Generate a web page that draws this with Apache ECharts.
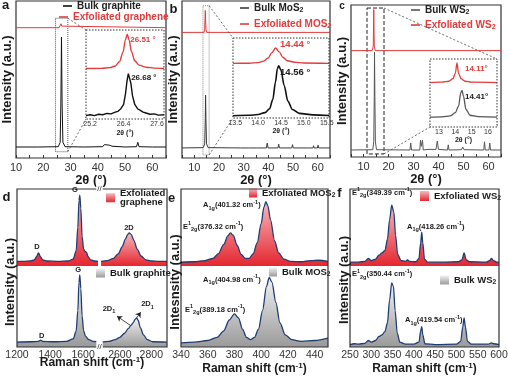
<!DOCTYPE html>
<html><head><meta charset="utf-8">
<script src="https://cdn.jsdelivr.net/npm/echarts@6/dist/echarts.min.js"></script>
<style>html,body{margin:0;padding:0;background:#fff}#c{width:508px;height:376px}</style>
</head><body><div id="c"></div>
<script>
// ================= DATA =================
const xrdTickLabels = [10, 20, 30, 40, 50, 60];
const insetTicksA = [25.2, 26.4, 27.6];
const insetTicksB = [13.5, 14.0, 14.5, 15.0, 15.5];
const insetTicksC = [13, 14, 15, 16];
const ramanTicksDL = [1200, 1400, 1600];
const ramanTicksDR = [2600, 2800];
const ramanTicksE = [340, 360, 380, 400, 420, 440];
const ramanTicksF = [250, 300, 350, 400, 450, 500, 550, 600];

// (a) XRD graphite
const graphiteBulkXRD = [[10,0.07],[18,0.07],[25.5,0.072],[26.2,0.1],[26.45,0.35],[26.68,0.77],[26.9,0.35],[27.2,0.1],[28,0.072],[35,0.07],[41.8,0.072],[42.4,0.085],[43,0.08],[44.2,0.082],[44.6,0.09],[45.2,0.075],[50,0.07],[54.2,0.072],[54.65,0.1],[55.1,0.072],[60,0.07],[65,0.07]];
const graphiteExfXRD = [[10,0.83],[25.8,0.83],[26.3,0.84],[26.51,0.855],[26.75,0.84],[27.2,0.83],[65,0.83]];
const graphiteExfInset = [[25.05,0.57],[25.6,0.572],[25.9,0.58],[26.1,0.6],[26.25,0.65],[26.38,0.76],[26.46,0.9],[26.53,0.97],[26.6,0.9],[26.68,0.77],[26.8,0.66],[26.95,0.61],[27.2,0.585],[27.5,0.575],[27.85,0.57]];
const graphiteBulkInset = [[25.05,0.02],[25.2,0.03],[25.35,0.02],[25.5,0.035],[25.65,0.03],[25.8,0.045],[25.95,0.04],[26.1,0.06],[26.2,0.07],[26.3,0.1],[26.4,0.15],[26.47,0.28],[26.52,0.42],[26.57,0.51],[26.62,0.49],[26.66,0.4],[26.72,0.25],[26.8,0.15],[26.9,0.1],[27.0,0.08],[27.1,0.06],[27.2,0.05],[27.35,0.035],[27.5,0.04],[27.65,0.025],[27.85,0.03]];

// (b) XRD MoS2
const mos2BulkXRD = [[5,0.064],[13.6,0.066],[14.2,0.09],[14.45,0.25],[14.56,0.40],[14.7,0.25],[14.95,0.09],[15.6,0.066],[28.6,0.064],[29,0.072],[29.4,0.064],[32.4,0.064],[32.7,0.074],[33.1,0.064],[35.6,0.064],[35.9,0.07],[36.2,0.064],[39.2,0.064],[39.55,0.095],[39.9,0.064],[43.9,0.064],[44.2,0.088],[44.5,0.064],[49.5,0.064],[49.8,0.085],[50.1,0.064],[55.8,0.064],[56,0.07],[56.2,0.064],[58.1,0.064],[58.35,0.078],[58.6,0.064],[59.9,0.064],[60.15,0.082],[60.4,0.064],[65,0.064]];
const mos2ExfXRD = [[5,0.80],[13.9,0.80],[14.2,0.82],[14.44,0.94],[14.7,0.82],[15,0.80],[65,0.80]];
const mos2ExfInset = [[13.45,0.69],[13.8,0.692],[14.0,0.70],[14.12,0.72],[14.22,0.76],[14.3,0.83],[14.38,0.89],[14.46,0.84],[14.54,0.77],[14.64,0.725],[14.8,0.705],[15.0,0.695],[15.55,0.69]];
const mos2BulkInset = [[13.45,0.01],[13.8,0.015],[14.0,0.025],[14.15,0.05],[14.25,0.1],[14.32,0.22],[14.38,0.45],[14.42,0.62],[14.45,0.66],[14.5,0.6],[14.57,0.4],[14.65,0.2],[14.75,0.09],[14.9,0.04],[15.2,0.02],[15.55,0.012]];

// (c) XRD WS2
const ws2BulkXRD = [[5,0.046],[13.7,0.048],[14.1,0.1],[14.3,0.4],[14.41,0.69],[14.55,0.4],[14.75,0.1],[15.2,0.048],[28.6,0.046],[28.9,0.092],[29.2,0.046],[32.5,0.046],[32.8,0.11],[33.1,0.07],[33.6,0.11],[33.9,0.046],[35.8,0.05],[36,0.058],[36.2,0.05],[39,0.05],[39.5,0.105],[40,0.05],[43.6,0.046],[43.9,0.08],[44.2,0.046],[49.2,0.048],[49.7,0.065],[50.2,0.048],[58.1,0.046],[58.4,0.1],[58.7,0.046],[60.2,0.046],[60.5,0.092],[60.8,0.046],[65,0.046]];
const ws2ExfXRD = [[5,0.70],[13.5,0.70],[13.9,0.73],[14.11,0.97],[14.3,0.73],[14.7,0.70],[33,0.70],[33.3,0.705],[33.6,0.70],[58.3,0.70],[58.5,0.706],[58.7,0.70],[65,0.70]];
const ws2ExfInset = [[12.45,0.66],[13.2,0.665],[13.6,0.68],[13.85,0.72],[14.0,0.8],[14.1,0.96],[14.2,0.8],[14.35,0.72],[14.6,0.68],[15.0,0.665],[16.55,0.66]];
const ws2BulkInset = [[12.45,0.13],[13.2,0.135],[13.7,0.15],[14.0,0.2],[14.2,0.3],[14.33,0.5],[14.41,0.54],[14.5,0.45],[14.65,0.25],[14.9,0.16],[15.4,0.14],[16.55,0.13]];

// (d) Raman graphene / graphite (broken axis: left and right segments)
const grapheneExfRamanL = [[1200,0.06],[1240,0.06],[1280,0.065],[1305,0.08],[1318,0.12],[1330,0.17],[1342,0.12],[1355,0.08],[1380,0.065],[1450,0.06],[1510,0.065],[1540,0.09],[1558,0.2],[1568,0.5],[1575,0.85],[1580,0.92],[1586,0.75],[1594,0.38],[1603,0.22],[1612,0.19],[1620,0.18],[1630,0.12],[1645,0.08],[1670,0.065],[1690,0.06]];
const grapheneExfRamanR = [[2480,0.06],[2520,0.07],[2560,0.1],[2590,0.16],[2615,0.25],[2635,0.35],[2650,0.41],[2660,0.43],[2672,0.41],[2690,0.33],[2710,0.22],[2735,0.13],[2765,0.08],[2800,0.065],[2850,0.06],[2900,0.06]];
const graphiteBulkRamanL = [[1200,0.06],[1280,0.065],[1330,0.07],[1343,0.085],[1355,0.07],[1420,0.065],[1500,0.07],[1540,0.1],[1558,0.2],[1568,0.45],[1575,0.8],[1580,0.89],[1586,0.72],[1594,0.38],[1603,0.2],[1615,0.13],[1635,0.09],[1660,0.07],[1690,0.065]];
const graphiteBulkRamanR = [[2480,0.06],[2530,0.07],[2570,0.09],[2600,0.12],[2630,0.17],[2655,0.23],[2672,0.27],[2685,0.3],[2697,0.34],[2707,0.36],[2716,0.33],[2730,0.24],[2750,0.15],[2775,0.09],[2810,0.065],[2900,0.06]];

// (e) Raman MoS2
const mos2ExfRaman = [[340,0.05],[350,0.055],[358,0.07],[364,0.1],[368,0.16],[372,0.28],[375,0.39],[377,0.43],[379,0.4],[382,0.27],[385,0.15],[388,0.1],[391,0.1],[394,0.16],[397,0.3],[400,0.55],[402,0.76],[403.5,0.835],[405,0.78],[407,0.6],[410,0.33],[413,0.17],[417,0.09],[422,0.06],[430,0.055],[437,0.07],[443,0.075],[450,0.06]];
const mos2BulkRaman = [[340,0.05],[350,0.06],[360,0.08],[367,0.12],[372,0.2],[376,0.33],[380,0.41],[383,0.36],[386,0.22],[389,0.12],[392,0.09],[395,0.12],[398,0.22],[401,0.45],[404,0.75],[406,0.86],[408,0.8],[411,0.55],[414,0.3],[418,0.15],[423,0.09],[430,0.07],[440,0.08],[450,0.11]];

// (f) Raman WS2
const ws2ExfRaman = [[250,0.05],[270,0.05],[285,0.06],[293,0.1],[300,0.07],[310,0.09],[318,0.14],[325,0.17],[332,0.2],[338,0.35],[343,0.6],[348,0.79],[353,0.7],[357,0.4],[362,0.15],[370,0.07],[380,0.06],[385,0.08],[390,0.06],[405,0.055],[412,0.1],[416,0.3],[418.5,0.44],[421,0.3],[425,0.09],[432,0.05],[470,0.05],[505,0.055],[513,0.08],[518,0.17],[523,0.08],[530,0.055],[570,0.05],[578,0.07],[582,0.1],[587,0.07],[595,0.05],[600,0.05]];
const ws2BulkRaman = [[250,0.03],[260,0.04],[270,0.035],[285,0.045],[293,0.08],[300,0.06],[310,0.08],[318,0.13],[325,0.15],[332,0.19],[338,0.3],[343,0.58],[348,0.79],[352,0.75],[356,0.45],[361,0.17],[367,0.06],[380,0.035],[400,0.035],[412,0.06],[416,0.2],[418.5,0.25],[421,0.15],[426,0.04],[450,0.03],[500,0.035],[510,0.07],[515,0.25],[518,0.36],[521,0.25],[526,0.07],[535,0.035],[575,0.035],[582,0.05],[588,0.04],[600,0.03]];

// ================= STYLE / LAYOUT =================
const FONT = 'Liberation Sans, Arial, Helvetica, sans-serif';
const RED = '#e23b3b';
const NAVY = '#1f3d73';
const INK = '#1a1a1a';

const G = [
  {l:16, t:1, w:150, h:157},   // 0 a
  {l:86, t:30, w:78, h:89},    // 1 a inset
  {l:182, t:1, w:148, h:157},  // 2 b
  {l:233, t:38, w:96, h:80},   // 3 b inset
  {l:351, t:5, w:150, h:152},  // 4 c
  {l:430, t:59, w:67, h:68},   // 5 c inset
  {l:17, t:189, w:81, h:77},   // 6 d top-left
  {l:101, t:189, w:66, h:77},  // 7 d top-right
  {l:17, t:266, w:81, h:81},   // 8 d bottom-left
  {l:101, t:266, w:66, h:81},  // 9 d bottom-right
  {l:181, t:189, w:147, h:77}, // 10 e top
  {l:181, t:266, w:147, h:81}, // 11 e bottom
  {l:350, t:189, w:149, h:77}, // 12 f top
  {l:350, t:266, w:149, h:81}  // 13 f bottom
];
const MAIN = [0,2,4], INSET = [1,3,5];

const grad = (c0, c1) => new echarts.graphic.LinearGradient(0,0,0,1,[{offset:0,color:c0},{offset:1,color:c1}]);
const exfFill = () => grad('#f7b8be', '#e5262f');
const bulkFill = () => grad('#f2f2f2', '#9a9a9a');
const plain = v => String(v);

function xrdX(i, min, max, gap) {
  return {type:'value', gridIndex:i, min:min, max:max, interval:5,
    axisLine:{show:false}, splitLine:{show:false},
    axisTick:{show:true, inside:true, length:3, lineStyle:{color:'#333', width:1}},
    axisLabel:{customValues:xrdTickLabels, fontSize:11, color:'#333', margin:4, fontFamily:FONT, formatter:plain},
    name:'2θ (°)', nameLocation:'middle', nameGap:gap,
    nameTextStyle:{fontSize:13, fontWeight:'bold', color:INK, fontFamily:FONT}};
}
function insetX(i, min, max, ticks, gap, dec) {
  return {type:'value', gridIndex:i, min:min, max:max,
    axisLine:{show:true, lineStyle:{color:'#333', width:1}}, splitLine:{show:false},
    axisTick:{show:true, inside:true, length:2, customValues:ticks, lineStyle:{color:'#333'}},
    axisLabel:{customValues:ticks, fontSize:7, color:'#333', margin:2, fontFamily:FONT,
      formatter: v => v.toFixed(dec)},
    name:'2θ (°)', nameLocation:'middle', nameGap:gap,
    nameTextStyle:{fontSize:7, fontWeight:'bold', color:INK, fontFamily:FONT}};
}
function ramanX(i, min, max, ticks, showLabel, name) {
  const ax = {type:'value', gridIndex:i, min:min, max:max,
    axisLine:{show:false}, splitLine:{show:false}, axisTick:{show:false},
    axisLabel:{show:showLabel, customValues:ticks, fontSize:10.5, color:'#333', margin:3, fontFamily:FONT, formatter:plain}};
  if (name) {
    ax.name = 'Raman shift (cm{sup|-1})';
    ax.nameLocation = 'middle'; ax.nameGap = 8;
    ax.nameTextStyle = {fontSize:12, fontWeight:'bold', color:INK, fontFamily:FONT, lineHeight:14,
      rich:{sup:{fontSize:8, fontWeight:'bold', color:INK, verticalAlign:'top', lineHeight:8, fontFamily:FONT}}};
  }
  return ax;
}
function hiddenY(i, name) {
  const ax = {type:'value', gridIndex:i, min:0, max:1,
    axisLine:{show:false}, axisTick:{show:false}, axisLabel:{show:false}, splitLine:{show:false}};
  if (name) {
    ax.name = name; ax.nameLocation = 'middle'; ax.nameGap = 2; ax.nameRotate = 90;
    ax.nameTextStyle = {fontSize:13, fontWeight:'bold', color:INK, fontFamily:FONT};
  }
  return ax;
}
const insetY = (i) => ({type:'value', gridIndex:i, min:-0.02, max:1.02, show:false});

function line(name, gi, data, color, width, extra) {
  return Object.assign({name:name, type:'line', xAxisIndex:gi, yAxisIndex:gi, data:data,
    color:color, symbol:'none', showSymbol:false, silent:true,
    lineStyle:{color:color, width:width}}, extra || {});
}
function raman(name, gi, data, fill, extra) {
  return Object.assign({name:name, type:'line', xAxisIndex:gi, yAxisIndex:gi, data:data,
    color:NAVY, symbol:'none', showSymbol:false, silent:true, smooth:0.3, smoothMonotone:'x',
    lineStyle:{color:NAVY, width:1.3},
    areaStyle:{color:fill, opacity:1, origin:'start'}}, extra || {});
}
function zoomBox(x1, y1, x2, y2, color, type) {
  return {silent:true, data:[[{xAxis:x1, yAxis:y1}, {xAxis:x2, yAxis:y2}]],
    itemStyle:{color:'rgba(0,0,0,0)', borderColor:color, borderWidth:1, borderType:type},
    label:{show:false}};
}

const legendLabels = {
  'Bulk graphite':'Bulk graphite',
  'Exfoliated graphene':'Exfoliated graphene',
  'Bulk MoS2':'Bulk MoS{s|2}',
  'Exfoliated MOS2':'Exfoliated MOS{s|2}',
  'Bulk WS2':'Bulk WS{s|2}',
  'Exfoliated WS2':'Exfoliated WS{s|2}',
  'Exfoliated graphene (Raman)':'Exfoliated\ngraphene',
  'Bulk graphite (Raman)':'Bulk graphite',
  'Exfoliated MOS2 (Raman)':'Exfoliated MOS{s|2}',
  'Bulk MOS2 (Raman)':'Bulk MOS{s|2}',
  'Exfoliated WS2 (Raman)':'Exfoliated WS{s|2}',
  'Bulk WS2 (Raman)':'Bulk WS{s|2}'
};
function lg(name, left, top, color, o) {
  o = o || {};
  const fs = o.fs || 10;
  const item = {name:name};
  if (o.fill) item.itemStyle = {color:o.fill, borderWidth:0};
  return {data:[item], left:left, top:top, orient:'vertical', padding:0,
    itemWidth:o.w || 9, itemHeight:o.h || 1.6, icon:'rect', selectedMode:false,
    itemStyle:{borderWidth:0},
    formatter: n => legendLabels[n],
    textStyle:{fontSize:fs, fontWeight:'bold', color:color, fontFamily:FONT, lineHeight:o.lh || 12,
      rich:{s:{fontSize:fs*0.7, fontWeight:'bold', color:color, verticalAlign:'bottom', lineHeight:7, fontFamily:FONT}}}};
}

const option = {
  animation:false,
  textStyle:{fontFamily:FONT},
  grid: G.map((g, i) => ({left:g.l, top:g.t, width:g.w, height:g.h, containLabel:false, outerBoundsMode:'none',
    show: MAIN.includes(i) || INSET.includes(i),
    backgroundColor: INSET.includes(i) ? '#fff' : 'transparent',
    borderColor:'#333', borderWidth: MAIN.includes(i) ? 1.2 : 0,
    z: INSET.includes(i) ? 3 : 2})),
  xAxis: [
    xrdX(0, 10, 65, 9),
    insetX(1, 25.05, 27.85, insetTicksA, 11, 1),
    xrdX(2, 5, 65, 7),
    insetX(3, 13.45, 15.55, insetTicksB, 9, 1),
    xrdX(4, 5, 65, 7),
    insetX(5, 12.45, 16.55, insetTicksC, 8, 0),
    ramanX(6, 1200, 1690, ramanTicksDL, false),
    ramanX(7, 2480, 2900, ramanTicksDR, false),
    ramanX(8, 1200, 1690, ramanTicksDL, true),
    ramanX(9, 2480, 2900, ramanTicksDR, true),
    ramanX(10, 340, 450, ramanTicksE, false),
    ramanX(11, 340, 450, ramanTicksE, true, true),
    ramanX(12, 250, 600, ramanTicksF, false),
    ramanX(13, 250, 600, ramanTicksF, true, true)
  ],
  yAxis: [
    hiddenY(0, 'Intensity (a.u.)'), insetY(1),
    hiddenY(2, 'Intensity (a.u.)'), insetY(3),
    hiddenY(4, 'Intensity (a.u.)'), insetY(5),
    hiddenY(6), hiddenY(7), hiddenY(8), hiddenY(9),
    hiddenY(10), hiddenY(11), hiddenY(12), hiddenY(13)
  ],
  legend: [
    lg('Bulk graphite', 63, 0, '#222'),
    lg('Exfoliated graphene', 59, 11, RED),
    lg('Bulk MoS2', 240, 2, '#222'),
    lg('Exfoliated MOS2', 240, 18, RED),
    lg('Bulk WS2', 411, 4, '#222'),
    lg('Exfoliated WS2', 411, 19, RED),
    lg('Exfoliated graphene (Raman)', 106, 188, INK, {w:9, h:9, fs:9.5, lh:9.5, fill:exfFill()}),
    lg('Bulk graphite (Raman)', 96, 267, INK, {w:9, h:9, fs:9.5, fill:bulkFill()}),
    lg('Exfoliated MOS2 (Raman)', 249, 187, INK, {w:8, h:9, fs:9.5, fill:exfFill()}),
    lg('Bulk MOS2 (Raman)', 269, 266, INK, {w:8, h:9, fs:9.5, fill:bulkFill()}),
    lg('Exfoliated WS2 (Raman)', 420, 190, INK, {w:9, h:10, fs:9.5, fill:exfFill()}),
    lg('Bulk WS2 (Raman)', 440, 274, INK, {w:9, h:9, fs:9.5, fill:bulkFill()})
  ],
  series: [
    line('Exfoliated graphene', 0, graphiteExfXRD, RED, 1),
    line('Bulk graphite', 0, graphiteBulkXRD, '#111', 1, {markArea: zoomBox(24.5, 0.89, 29, 0.04, '#555', 'dotted')}),
    line('inset-a-exf', 1, graphiteExfInset, RED, 1.4, {z:4, smooth:0.3, smoothMonotone:'x'}),
    line('inset-a-bulk', 1, graphiteBulkInset, '#111', 1.4, {z:4}),
    line('Exfoliated MOS2', 2, mos2ExfXRD, RED, 1),
    line('Bulk MoS2', 2, mos2BulkXRD, '#3a3a3a', 1, {markArea: zoomBox(13.5, 0.97, 16, 0.02, '#888', 'dotted')}),
    line('inset-b-exf', 3, mos2ExfInset, RED, 1.4, {z:4, smooth:0.3, smoothMonotone:'x'}),
    line('inset-b-bulk', 3, mos2BulkInset, '#111', 1.6, {z:4, smooth:0.3, smoothMonotone:'x'}),
    line('Exfoliated WS2', 4, ws2ExfXRD, RED, 1),
    line('Bulk WS2', 4, ws2BulkXRD, '#555', 1, {markArea: zoomBox(11.4, 0.98, 18.2, 0.02, '#222', 'dashed')}),
    line('inset-c-exf', 5, ws2ExfInset, RED, 1.3, {z:4, smooth:0.3, smoothMonotone:'x'}),
    line('inset-c-bulk', 5, ws2BulkInset, '#555', 1.3, {z:4, smooth:0.3, smoothMonotone:'x'}),
    raman('Exfoliated graphene (Raman)', 6, grapheneExfRamanL, exfFill()),
    raman('Exfoliated graphene (Raman)', 7, grapheneExfRamanR, exfFill()),
    raman('Bulk graphite (Raman)', 8, graphiteBulkRamanL, bulkFill()),
    raman('Bulk graphite (Raman)', 9, graphiteBulkRamanR, bulkFill(), {markLine:{silent:true, symbol:['none','arrow'], symbolSize:5,
      lineStyle:{color:'#222', width:0.8, type:'solid'}, label:{show:false},
      data:[[{coord:[2665,0.27]},{coord:[2582,0.38]}],[{coord:[2707,0.36]},{coord:[2733,0.43]}]]}}),
    raman('Exfoliated MOS2 (Raman)', 10, mos2ExfRaman, exfFill()),
    raman('Bulk MOS2 (Raman)', 11, mos2BulkRaman, bulkFill()),
    raman('Exfoliated WS2 (Raman)', 12, ws2ExfRaman, exfFill()),
    raman('Bulk WS2 (Raman)', 13, ws2BulkRaman, bulkFill())
  ]
};

const chart = echarts.init(document.getElementById('c'), null, {renderer:'canvas', width:508, height:376});
chart.setOption(option);

// ================= ANNOTATIONS / DECORATION =================
const px = (gi, x, y) => chart.convertToPixel({gridIndex:gi}, [x, y]);
const gfx = [];
const txt = (x, y, text, o) => {
  o = o || {};
  gfx.push({type:'text', x:x, y:y, rotation:o.rot || 0, z:10, silent:true,
    style:{text:text, fontSize:o.fs || 8, fontWeight:o.fw || 'bold', fontFamily:FONT,
      fill:o.color || INK, align:o.align || 'left', verticalAlign:'middle', lineHeight:o.lh || 12,
      rich:o.rich || undefined, backgroundColor:o.bg || undefined, padding:o.pad || 0}});
};
// frames of Raman panels
[[6,7,8,9],[10,10,11,11],[12,12,13,13]].forEach(q => {
  const x0 = G[q[0]].l, y0 = G[q[0]].t, x1 = G[q[1]].l + G[q[1]].w, y1 = G[q[2]].t + G[q[2]].h;
  gfx.push({type:'rect', z:9, silent:true, shape:{x:x0, y:y0, width:x1 - x0, height:y1 - y0},
    style:{fill:'none', stroke:'#333', lineWidth:1.2}});
});
// inset frames + connecting lines
[[0,1,29,0.89,29,0.04,'tl'],[2,3,16,0.97,16,0.02,'tl'],[4,5,18.2,0.98,18.2,0.02,'tr']].forEach(q => {
  const g = G[q[1]];
  gfx.push({type:'rect', z:9, silent:true, shape:{x:g.l, y:g.t, width:g.w, height:g.h},
    style:{fill:'none', stroke:'#333', lineWidth:1, lineDash:[1.5,1.5]}});
  const a = px(q[0], q[2], q[3]), b = px(q[0], q[4], q[5]);
  const topX = q[6] === 'tl' ? g.l : g.l + g.w;
  gfx.push({type:'line', z:9, silent:true, shape:{x1:a[0], y1:a[1], x2:topX, y2:g.t},
    style:{stroke:'#444', lineWidth:0.8, lineDash:[2,2]}});
  gfx.push({type:'line', z:9, silent:true, shape:{x1:b[0], y1:b[1], x2:g.l, y2:g.t + g.h},
    style:{stroke:'#444', lineWidth:0.8, lineDash:[2,2]}});
});
// axis break marks (panel d)
const brkX = (G[6].l + G[6].w + G[7].l) / 2;
txt(brkX, G[6].t, '//', {fs:8, align:'center', bg:'#fff', pad:[0,1], fw:'normal'});
txt(brkX, G[8].t + G[8].h, '//', {fs:8, align:'center', bg:'#fff', pad:[0,1], fw:'normal'});
// panel letters
txt(5.5, 5, 'a', {fs:13, align:'center'});
txt(173.5, 9, 'b', {fs:13, align:'center'});
txt(342, 6, 'c', {fs:10, align:'center'});
txt(6.5, 197, 'd', {fs:13, align:'center'});
txt(171.5, 198, 'e', {fs:13, align:'center'});
txt(339.5, 193, 'f', {fs:13, align:'center'});
// Raman y titles and d x title
txt(10.5, 282, 'Intensity (a.u.)', {fs:13, align:'center', rot:Math.PI / 2});
txt(175.5, 282, 'Intesnsity (a.u.)', {fs:13, align:'center', rot:Math.PI / 2});
txt(344, 280, 'Intensity (a.u.)', {fs:13, align:'center', rot:Math.PI / 2});
txt((G[8].l + G[9].l + G[9].w) / 2, 363, 'Raman shift (cm{sup|-1})', {fs:12, align:'center', lh:14,
  rich:{sup:{fontSize:8, fontWeight:'bold', fill:INK, verticalAlign:'top', lineHeight:8, fontFamily:FONT}}});

// peak annotations in data coordinates
const xrdNotes = [
  [1, 26.64, 0.91, '26.51 °', RED, 8],
  [1, 26.67, 0.46, '26.68 °', INK, 8],
  [3, 14.48, 0.94, '14.44 °', RED, 9.5],
  [3, 14.48, 0.575, '14.56 °', INK, 9.5],
  [5, 14.59, 0.87, '14.11°', RED, 8],
  [5, 14.59, 0.44, '14.41°', INK, 8]
];
xrdNotes.forEach(n => { const p = px(n[0], n[1], n[2]); txt(p[0], p[1], n[3], {color:n[4], fs:n[5]}); });

const peakRich = {
  sub:{fontSize:5.5, fontWeight:'bold', fill:INK, verticalAlign:'bottom', lineHeight:7, fontFamily:FONT},
  sup:{fontSize:5.5, fontWeight:'bold', fill:INK, verticalAlign:'top', lineHeight:7, fontFamily:FONT}
};
const ramanNotes = [
  [6, 1321, 0.25, 'D', 'center'],
  [6, 1551, 0.99, 'G', 'center'],
  [7, 2658, 0.5, '2D', 'center'],
  [8, 1570, 0.95, 'G', 'center'],
  [8, 1349, 0.14, 'D', 'center'],
  [9, 2531, 0.47, '2D{sub|1}', 'center'],
  [9, 2776, 0.53, '2D{sub|1}', 'center'],
  [10, 356.5, 0.79, 'A{sub|1g}(401.32 cm{sup|-1})', 'left'],
  [10, 341.5, 0.51, 'E{sup|1}{sub|2g}(376.32 cm{sup|-1})', 'left'],
  [11, 356.5, 0.83, 'A{sub|1g}(404.98 cm{sup|-1})', 'left'],
  [11, 343, 0.46, 'E{sup|1}{sub|2g}(389.18 cm{sup|-1})', 'left'],
  [12, 254.7, 0.95, 'E{sup|1}{sub|2g}(349.39 cm{sup|-1})', 'left'],
  [12, 383.9, 0.51, 'A{sub|1g}(418.26 cm{sup|-1})', 'left'],
  [13, 254.7, 0.9, 'E{sup|1}{sub|2g}(350.44 cm{sup|-1})', 'left'],
  [13, 379.2, 0.33, 'A{sub|1g}(419.54 cm{sup|-1})', 'left']
];
ramanNotes.forEach(n => { const p = px(n[0], n[1], n[2]); txt(p[0], p[1], n[3], {align:n[4], fs:7.5, rich:peakRich}); });

chart.setOption({graphic:{elements:gfx}});
</script>
</body></html>
